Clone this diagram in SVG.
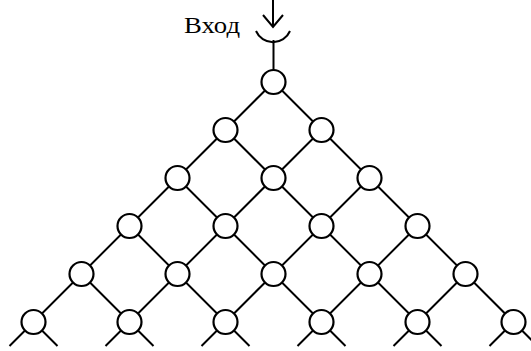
<svg xmlns="http://www.w3.org/2000/svg" width="531" height="351" viewBox="0 0 531 351">
<style>
.e{stroke:#000;stroke-width:2;fill:none;stroke-linecap:butt}
.n{fill:#fff;stroke:#000;stroke-width:2.2}
.t{font-family:"Liberation Serif","DejaVu Serif",serif;font-size:23px;fill:#000}
</style>
<rect width="531" height="351" fill="#fff"/>
<g id="input">
<text class="t" x="184" y="33" textLength="56" lengthAdjust="spacingAndGlyphs">Вход</text>
<path class="e" d="M273,0 V27 M263,15 L273,27 L283,15"/>
<path class="e" d="M256,31 A18.5,18.5 0 0 0 290,31"/>
</g>
<g id="connectors">
<path class="e" d="M273.5,40 V82"/>
<path class="e" d="M273.5,82 L33.5,322 M273.5,82 L513.5,322
M225.5,130 L417.5,322 M177.5,178 L321.5,322 M129.5,226 L225.5,322 M81.5,274 L129.5,322
M321.5,130 L129.5,322 M369.5,178 L225.5,322 M417.5,226 L321.5,322 M465.5,274 L417.5,322"/>
<path class="e" d="M33.5,322 l-24,24 M33.5,322 l24,24
M129.5,322 l-24,24 M129.5,322 l24,24
M225.5,322 l-24,24 M225.5,322 l24,24
M321.5,322 l-24,24 M321.5,322 l24,24
M417.5,322 l-24,24 M417.5,322 l24,24
M513.5,322 l-24,24 M513.5,322 l24,24"/>
</g>
<g id="n0_0"><circle class="n" cx="273.5" cy="82" r="12"/></g>
<g id="n1_0"><circle class="n" cx="225.5" cy="130" r="12"/></g>
<g id="n1_1"><circle class="n" cx="321.5" cy="130" r="12"/></g>
<g id="n2_0"><circle class="n" cx="177.5" cy="178" r="12"/></g>
<g id="n2_1"><circle class="n" cx="273.5" cy="178" r="12"/></g>
<g id="n2_2"><circle class="n" cx="369.5" cy="178" r="12"/></g>
<g id="n3_0"><circle class="n" cx="129.5" cy="226" r="12"/></g>
<g id="n3_1"><circle class="n" cx="225.5" cy="226" r="12"/></g>
<g id="n3_2"><circle class="n" cx="321.5" cy="226" r="12"/></g>
<g id="n3_3"><circle class="n" cx="417.5" cy="226" r="12"/></g>
<g id="n4_0"><circle class="n" cx="81.5" cy="274" r="12"/></g>
<g id="n4_1"><circle class="n" cx="177.5" cy="274" r="12"/></g>
<g id="n4_2"><circle class="n" cx="273.5" cy="274" r="12"/></g>
<g id="n4_3"><circle class="n" cx="369.5" cy="274" r="12"/></g>
<g id="n4_4"><circle class="n" cx="465.5" cy="274" r="12"/></g>
<g id="n5_0"><circle class="n" cx="33.5" cy="322" r="12"/></g>
<g id="n5_1"><circle class="n" cx="129.5" cy="322" r="12"/></g>
<g id="n5_2"><circle class="n" cx="225.5" cy="322" r="12"/></g>
<g id="n5_3"><circle class="n" cx="321.5" cy="322" r="12"/></g>
<g id="n5_4"><circle class="n" cx="417.5" cy="322" r="12"/></g>
<g id="n5_5"><circle class="n" cx="513.5" cy="322" r="12"/></g>
</svg>
